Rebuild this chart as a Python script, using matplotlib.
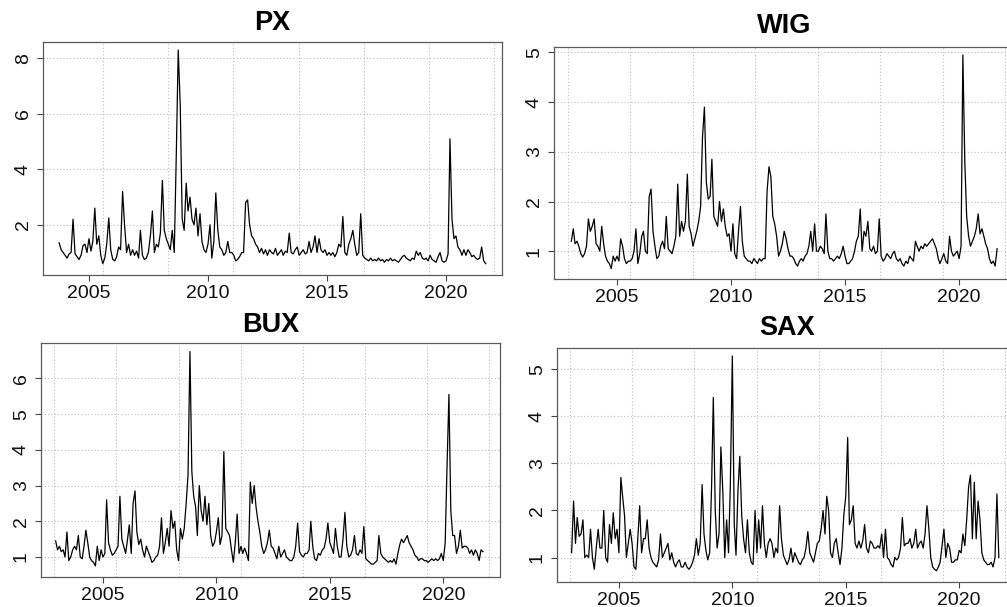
import numpy as np
import pandas as pd
import matplotlib
matplotlib.use("Agg")
import matplotlib.pyplot as plt

plt.rcParams['font.family'] = ['Liberation Sans', 'DejaVu Sans']

# ---------------- data (monthly readings) ----------------
px_start = "2003-10-01"
px = [1.35, 1.1, 1.0, 0.9, 0.8, 0.95, 1.0, 2.2, 0.95, 0.85, 0.75, 0.9,
      1.25, 1.3, 1.0, 1.5, 1.05, 1.4, 2.6, 1.3, 1.6, 0.9, 0.6, 0.8,
      1.3, 2.25, 1.1, 0.75, 0.7, 0.85, 1.2, 1.1, 3.2, 2.0, 1.0, 1.3,
      0.9, 1.1, 0.9, 1.05, 0.8, 1.8, 0.9, 0.75, 0.8, 1.0, 1.6, 2.5,
      1.0, 1.3, 1.2, 1.7, 3.6, 1.8, 1.5, 1.3, 1.1, 1.8, 1.0, 4.5,
      8.3, 6.3, 2.2, 1.8, 3.5, 2.5, 3.0, 2.2, 2.0, 2.6, 1.6, 2.4,
      1.4, 1.1, 1.0, 1.3, 2.0, 0.8, 1.4, 3.15, 1.8, 1.2, 1.1, 0.9,
      1.0, 1.4, 1.0, 1.0, 0.9, 0.7, 0.75, 0.85, 1.0, 1.0, 2.8, 2.9,
      2.0, 1.6, 1.5, 1.3, 1.2, 1.0, 1.15, 0.95, 1.1, 0.9, 1.1, 1.0,
      0.95, 1.15, 0.9, 1.0, 1.1, 0.9, 1.05, 1.0, 1.7, 1.0, 0.95, 1.1,
      1.2, 0.9, 1.0, 1.1, 0.95, 1.0, 1.4, 1.0, 1.2, 1.6, 1.0, 1.5,
      1.1, 1.0, 1.1, 0.9, 1.0, 0.9, 1.0, 0.85, 1.0, 1.3, 1.2, 2.3,
      1.0, 0.9, 1.3, 1.5, 1.8, 1.3, 0.9, 1.0, 2.4, 0.9, 0.8, 0.75,
      0.7, 0.8, 0.7, 0.75, 0.7, 0.8, 0.7, 0.75, 0.65, 0.75, 0.7, 0.8,
      0.7, 0.75, 0.7, 0.65, 0.75, 0.85, 0.9, 0.8, 0.75, 0.7, 0.8, 0.75,
      1.05, 0.9, 1.0, 0.8, 0.75, 0.8, 0.7, 0.9, 0.75, 0.7, 0.65, 0.85,
      1.0, 0.7, 0.65, 0.7, 0.95, 5.1, 2.2, 1.5, 1.6, 1.2, 1.1, 0.9,
      1.1, 0.9, 1.1, 1.0, 0.85, 0.9, 0.8, 0.75, 0.8, 1.2, 0.7, 0.6]

wig_start = "2003-01-01"
wig = [1.2, 1.45, 1.15, 1.2, 1.1, 0.95, 0.88, 0.95, 1.1, 1.65, 1.4, 1.5,
       1.65, 1.15, 1.1, 1.0, 1.5, 1.15, 0.9, 0.8, 0.75, 0.65, 0.9, 0.8,
       0.9, 0.8, 1.25, 1.1, 0.85, 0.75, 0.8, 0.8, 0.85, 1.0, 1.45, 0.75,
       0.95, 1.3, 1.4, 1.0, 0.95, 2.1, 2.25, 1.4, 1.1, 0.85, 0.9, 1.1,
       1.2, 1.05, 1.7, 1.05, 1.0, 0.95, 1.1, 1.3, 2.35, 1.3, 1.6, 1.4,
       1.6, 2.55, 1.5, 1.35, 1.1, 1.25, 1.4, 1.6, 1.9, 3.3, 3.9, 2.4,
       2.05, 2.1, 2.85, 1.7, 1.6, 1.5, 2.0, 1.6, 1.85, 1.5, 1.3, 1.35,
       1.0, 1.55, 0.95, 0.85, 1.4, 1.9, 1.2, 0.9, 0.85, 0.8, 0.8, 0.75,
       0.85, 0.8, 0.75, 0.85, 0.8, 0.85, 0.85, 2.2, 2.7, 2.5, 1.7, 1.55,
       1.3, 0.9, 1.0, 1.15, 1.4, 1.25, 1.05, 0.9, 0.9, 0.85, 0.75, 0.7,
       0.8, 0.85, 0.8, 0.9, 0.95, 1.1, 1.4, 1.0, 1.55, 1.0, 1.0, 1.1,
       1.05, 0.95, 1.75, 1.0, 0.85, 0.85, 0.8, 0.85, 0.9, 0.85, 0.95, 1.1,
       0.9, 0.75, 0.75, 0.8, 0.85, 1.0, 1.2, 1.3, 1.85, 1.0, 1.4, 1.3,
       1.6, 1.05, 1.0, 1.1, 0.95, 1.0, 1.65, 0.9, 0.8, 0.85, 0.95, 0.9,
       0.85, 0.95, 1.0, 0.85, 0.8, 0.85, 0.75, 0.7, 0.8, 0.75, 0.9, 0.85,
       0.8, 1.2, 1.1, 1.0, 1.1, 1.05, 1.15, 1.1, 1.15, 1.2, 1.25, 1.15,
       1.05, 0.85, 0.75, 0.85, 0.95, 0.8, 0.75, 1.3, 1.0, 0.9, 0.95, 1.0,
       0.85, 1.1, 4.95, 2.8, 1.7, 1.3, 1.1, 1.2, 1.3, 1.45, 1.75, 1.35,
       1.45, 1.3, 1.15, 1.05, 0.85, 0.75, 0.8, 0.7, 1.05]

bux_start = "2002-12-01"
bux = [1.45, 1.2, 1.3, 1.15, 1.2, 1.0, 1.7, 0.9, 1.0, 1.2, 1.3, 1.2,
       1.6, 1.0, 0.95, 1.3, 1.75, 1.4, 1.0, 0.9, 0.85, 0.75, 1.3, 0.9,
       1.2, 1.0, 1.1, 2.6, 1.4, 1.2, 1.05, 1.1, 1.2, 1.3, 2.7, 1.5,
       1.3, 1.1, 1.5, 1.9, 1.1, 2.5, 2.85, 1.7, 1.35, 1.5, 1.2, 1.0,
       1.3, 1.15, 1.0, 0.85, 0.9, 1.0, 1.05, 1.3, 2.1, 1.1, 1.4, 1.8,
       1.3, 2.3, 1.8, 2.0, 1.2, 0.9, 1.8, 1.5, 1.8, 2.5, 3.3, 6.75,
       3.4, 2.7, 2.4, 1.6, 3.0, 2.3, 2.0, 2.7, 1.9, 2.5, 1.6, 1.3,
       1.4, 1.7, 2.1, 1.35, 1.6, 3.95, 1.8, 1.7, 1.6, 1.2, 0.85, 1.4,
       2.2, 1.1, 1.3, 1.1, 1.25, 1.1, 0.9, 3.1, 2.5, 3.0, 2.4, 2.0,
       1.7, 1.3, 1.1, 1.2, 1.4, 1.75, 1.3, 1.25, 1.1, 0.95, 1.3, 1.0,
       1.1, 1.2, 1.0, 0.95, 0.9, 0.9, 1.0, 1.3, 1.95, 1.15, 1.05, 1.0,
       1.1, 1.1, 1.2, 2.0, 1.3, 0.95, 0.9, 1.1, 1.05, 1.2, 1.25, 1.5,
       1.95, 1.4, 1.25, 1.1, 1.8, 1.3, 1.0, 1.0, 1.5, 2.25, 1.3, 1.0,
       1.05, 1.2, 1.6, 1.1, 1.05, 1.2, 1.1, 1.85, 0.95, 0.9, 0.85, 0.8,
       0.8, 0.85, 0.9, 1.6, 1.1, 1.0, 0.95, 0.9, 0.85, 0.9, 0.85, 0.95,
       0.8, 1.1, 1.35, 1.5, 1.4, 1.5, 1.6, 1.4, 1.3, 1.2, 1.05, 1.0,
       0.9, 0.95, 0.95, 0.9, 0.9, 0.85, 0.9, 0.95, 0.9, 0.95, 0.9, 0.95,
       1.1, 0.9, 1.4, 3.5, 5.55, 2.3, 1.6, 1.6, 1.1, 1.3, 1.75, 1.25,
       1.3, 1.3, 1.25, 1.1, 1.2, 1.05, 1.2, 1.1, 0.9, 1.2, 1.15]

sax_start = "2002-12-01"
sax = [1.1, 2.2, 1.3, 1.85, 1.45, 1.5, 1.8, 1.0, 1.05, 1.0, 1.6, 1.0,
       0.75, 1.2, 1.6, 1.2, 1.2, 2.0, 1.0, 0.9, 1.7, 1.3, 1.95, 1.4,
       1.6, 1.1, 2.7, 2.3, 1.9, 1.0, 1.3, 1.6, 1.3, 0.8, 0.75, 1.4,
       2.1, 1.1, 1.4, 1.4, 1.8, 1.2, 1.0, 0.9, 0.85, 0.8, 0.95, 1.5,
       1.0, 1.1, 1.2, 1.3, 0.95, 1.1, 0.9, 0.8, 0.9, 0.95, 0.8, 0.8,
       0.9, 0.8, 0.75, 0.8, 0.9, 1.05, 1.4, 1.05, 1.3, 2.55, 1.5, 1.15,
       0.95, 1.1, 2.5, 4.4, 2.0, 1.2, 1.5, 3.35, 2.4, 1.0, 1.8, 1.1,
       2.6, 5.28, 1.7, 1.05, 2.4, 3.15, 1.9, 1.4, 1.1, 1.8, 1.1, 0.9,
       0.85, 2.0, 1.1, 1.8, 1.2, 2.1, 1.3, 1.0, 1.3, 1.4, 1.3, 1.0,
       1.2, 1.1, 2.1, 1.4, 1.05, 0.95, 0.85, 0.95, 1.2, 0.9, 1.1, 1.0,
       0.9, 0.85, 0.95, 1.0, 1.2, 1.55, 1.1, 1.0, 0.9, 1.1, 1.3, 1.35,
       1.6, 2.0, 1.5, 2.3, 2.0, 1.1, 1.0, 1.3, 1.4, 1.1, 0.85, 1.2,
       1.9, 2.3, 3.55, 1.7, 1.8, 2.1, 1.3, 1.2, 1.35, 1.2, 1.35, 1.7,
       1.2, 1.1, 1.35, 1.3, 1.2, 1.2, 1.25, 1.2, 1.5, 1.0, 1.6, 1.0,
       0.95, 0.85, 0.8, 1.0, 0.95, 1.0, 1.2, 1.85, 1.25, 1.3, 1.3, 1.4,
       1.2, 1.3, 1.6, 1.2, 1.3, 1.35, 1.2, 1.5, 2.1, 1.6, 1.0, 0.8,
       0.75, 0.72, 0.8, 0.9, 1.25, 1.6, 1.0, 1.3, 1.2, 0.9, 0.9, 0.95,
       0.95, 1.15, 1.1, 1.5, 1.25, 1.8, 2.5, 2.75, 1.4, 2.6, 1.4, 2.2,
       1.8, 1.1, 0.95, 0.9, 0.85, 0.85, 0.9, 0.8, 1.0, 2.35, 1.0]

titles = ["PX", "WIG", "BUX", "SAX"]
x_ticks = [2005, 2010, 2015, 2020]
y_ticks = {"PX": [2, 4, 6, 8], "WIG": [1, 2, 3, 4, 5],
           "BUX": [1, 2, 3, 4, 5, 6], "SAX": [1, 2, 3, 4, 5]}
grid_days = [12000, 13000, 14000, 15000, 16000, 17000, 18000, 19000]


def dec_year(ts):
    ts = pd.DatetimeIndex(ts)
    return ts.year + (ts.dayofyear - 1) / 365.25


series = {
    "PX": (px_start, px),
    "WIG": (wig_start, wig),
    "BUX": (bux_start, bux),
    "SAX": (sax_start, sax),
}

grid_x = dec_year(pd.Timestamp("1970-01-01") + pd.to_timedelta(grid_days, unit="D"))

W, H = 1007, 607
fig = plt.figure(figsize=(W / 100, H / 100), dpi=100)

# pixel boxes: left, right, top, bottom
boxes = {
    "PX": (43, 502, 42, 275),
    "WIG": (554, 1015, 47, 279),
    "BUX": (41, 500, 343, 577),
    "SAX": (557, 1017, 348, 582),
}
xlims = {"PX": (2003.07, 2022.35), "WIG": (2002.24, 2022.45),
         "BUX": (2002.27, 2022.5), "SAX": (2002.27, 2022.55)}
ylims = {"PX": (0.19, 8.59), "WIG": (0.44, 5.11),
         "BUX": (0.44, 6.99), "SAX": (0.48, 5.45)}
title_pads = {"PX": 8.6, "WIG": 10.0, "BUX": 7.9, "SAX": 9.4}

for name in titles:
    l, r, t, b = boxes[name]
    ax = fig.add_axes([l / W, 1 - b / H, (r - l) / W, (b - t) / H])
    start, vals = series[name]
    x = dec_year(pd.date_range(start, periods=len(vals), freq="MS"))
    ax.plot(x, vals, color="black", lw=0.9)
    ax.set_xlim(*xlims[name])
    ax.set_ylim(*ylims[name])
    for gx in grid_x:
        ax.axvline(gx, color="#bdbdbd", lw=0.8, ls=(0, (1, 2)), zorder=0)
    for gy in y_ticks[name]:
        ax.axhline(gy, color="#bdbdbd", lw=0.8, ls=(0, (1, 2)), zorder=0)
    ax.set_xticks(x_ticks)
    ax.set_yticks(y_ticks[name])
    ax.set_yticklabels([str(v) for v in y_ticks[name]], rotation=90, va="center")
    ax.tick_params(axis="x", length=4, width=0.8, color="#444444", pad=3,
                   labelsize=14, labelcolor="#111111")
    ax.tick_params(axis="y", length=4, width=0.8, color="#444444", pad=4,
                   labelsize=14, labelcolor="#111111")
    for sp in ax.spines.values():
        sp.set_color("#5a5a5a")
        sp.set_linewidth(0.9)
    ax.set_title(name, fontsize=19.5, fontweight="bold", pad=title_pads[name])

fig.savefig("out.png", dpi=100)
